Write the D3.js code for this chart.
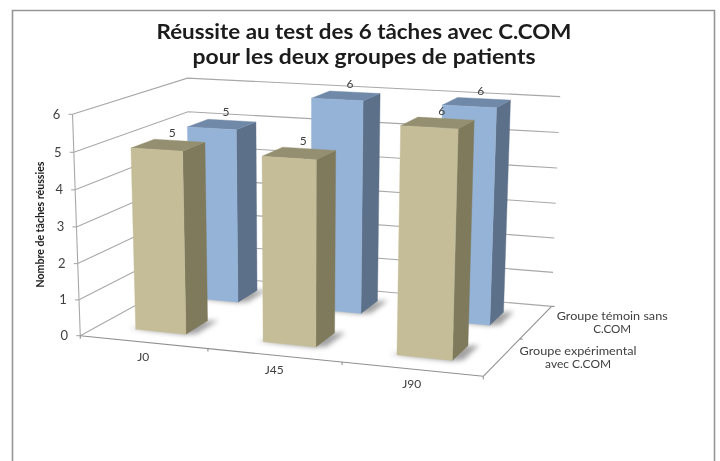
<!DOCTYPE html>
<html>
<head>
<meta charset="utf-8">
<script src="https://cdn.jsdelivr.net/npm/d3@7"></script>
<style>
  body { margin: 0; background: #fff; }
  text { font-family: Lato, "Open Sans", sans-serif; fill: #404040; }
</style>
</head>
<body>
<script>
const w = 720;
const h = 461;

const categories = ["J0", "J45", "J90"];
const groups = ["Groupe expérimental avec C.COM", "Groupe témoin sans C.COM"];
const experimental = [5, 5, 6];
const temoin = [5, 6, 6];
const yTicks = [0, 1, 2, 3, 4, 5, 6];
const titleLines = [
  "Réussite au test des 6 tâches avec C.COM",
  "pour les deux groupes de patients",
];

// box corners seen on the picture: [x, z, y] -> [screen x, screen y]
const anchors = [
  [[0, 0, 0], [81, 335]],
  [[0, 0, 6], [72, 114]],
  [[0, 1, 0], [190, 276]],
  [[0, 1, 6], [188, 78]],
  [[3, 1, 0], [552, 305]],
  [[3, 1, 6], [560, 97]],
  [[3, 0, 0], [483, 377]],
  [[1, 0, 0], [208, 348]],
  [[2, 0, 0], [342, 363]],
];

// least squares fit of a projective camera
function fitCamera(pts) {
  const rows = [];
  const rhs = [];
  pts.forEach(([p, s]) => {
    const [x, z, y] = p;
    const u = s[0] / 100;
    const v = s[1] / 100;
    rows.push([x, z, y, 1, 0, 0, 0, 0, -u * x, -u * z, -u * y]);
    rhs.push(u);
    rows.push([0, 0, 0, 0, x, z, y, 1, -v * x, -v * z, -v * y]);
    rhs.push(v);
  });
  const n = 11;
  const a = d3.range(n).map((i) =>
    d3.range(n + 1).map((j) =>
      j < n
        ? d3.sum(rows, (r) => r[i] * r[j])
        : d3.sum(rows, (r, k) => r[i] * rhs[k])
    )
  );
  for (let i = 0; i < n; i++) {
    let best = i;
    for (let k = i; k < n; k++) {
      if (Math.abs(a[k][i]) > Math.abs(a[best][i])) best = k;
    }
    [a[i], a[best]] = [a[best], a[i]];
    for (let k = 0; k < n; k++) {
      if (k === i) continue;
      const f = a[k][i] / a[i][i];
      for (let j = i; j <= n; j++) a[k][j] -= f * a[i][j];
    }
  }
  return d3.range(n).map((i) => a[i][n] / a[i][i]);
}

const cam = fitCamera(anchors);

function project(x, z, y) {
  const d = cam[8] * x + cam[9] * z + cam[10] * y + 1;
  return [
    (100 * (cam[0] * x + cam[1] * z + cam[2] * y + cam[3])) / d,
    (100 * (cam[4] * x + cam[5] * z + cam[6] * y + cam[7])) / d,
  ];
}

const xScale = d3.scaleBand().domain(categories).range([0, 3]).paddingInner(0.6).paddingOuter(0.3);
const zScale = d3.scaleBand().domain(groups).range([0, 1]).paddingInner(0.6).paddingOuter(0.3);

const root = d3.select("body").append("svg").attr("width", w).attr("height", h).style("display", "block");

const defs = root.append("defs");
defs.append("filter").attr("id", "soft").attr("x", "-30%").attr("y", "-60%").attr("width", "160%").attr("height", "220%")
  .append("feGaussianBlur").attr("stdDeviation", 2.5);
// the reference is a slightly blurred scan
defs.append("filter").attr("id", "scan").attr("x", 0).attr("y", 0).attr("width", "100%").attr("height", "100%")
  .append("feGaussianBlur").attr("stdDeviation", 0.35);

const svg = root.append("g").attr("filter", "url(#scan)");
svg.append("rect").attr("width", w).attr("height", h).attr("fill", "#fff");

const line = d3.line();

// frame of the pasted chart
svg.append("path").attr("d", "M12.5,461V10.5H714.5V461").attr("stroke", "#969696").attr("stroke-width", 1.6).attr("fill", "none");

// title, stretched like the reference
const titleWidths = [415, 343];
svg.append("g").selectAll("text").data(titleLines).enter().append("text")
  .attr("x", 364)
  .attr("y", (d, i) => 39 + i * 24.5)
  .attr("text-anchor", "middle")
  .attr("font-size", 20.3)
  .attr("font-weight", 700)
  .attr("textLength", (d, i) => titleWidths[i])
  .attr("lengthAdjust", "spacingAndGlyphs")
  .style("fill", "#1a1a1a")
  .text((d) => d);

// walls
const grid = svg.append("g").attr("fill", "none").attr("stroke", "#a8a8a8").attr("stroke-width", 1.1);
yTicks.forEach((t) => {
  grid.append("path").attr("d", line([project(0, 0, t), project(0, 1, t), project(3, 1, t)]));
  grid.append("path").attr("d", line([project(0, 0, t), [project(0, 0, t)[0] - 4, project(0, 0, t)[1]]]));
});
grid.append("path").attr("d", line([project(0, 0, 0), project(0, 0, 6)]));

// floor edges and their ticks
const floor = svg.append("g").attr("fill", "none").attr("stroke", "#8f8f8f").attr("stroke-width", 1.1);
floor.append("path").attr("d", line([project(0, 0, 0), project(3, 0, 0)]));
floor.append("path").attr("d", line([project(3, 0, 0), project(3, 1, 0)]));
[0, 1, 2, 3].forEach((i) => {
  const p = project(i, 0, 0);
  floor.append("path").attr("d", line([p, [p[0], p[1] + 3]]));
});
[0.5, 1].forEach((z) => {
  const p = project(3, z, 0);
  floor.append("path").attr("d", line([p, [p[0] + 3, p[1]]]));
});

const palette = [
  { front: "#c4bd97", side: "#7f7a5c", top: "#948f6f" },
  { front: "#95b3d7", side: "#5d7089", top: "#7189a9" },
];

function drawBar(cat, group, value, col) {
  const x0 = xScale(cat);
  const x1 = x0 + xScale.bandwidth();
  const z0 = zScale(group);
  const z1 = z0 + zScale.bandwidth();
  const g = svg.append("g");
  const poly = (pts, fill) =>
    g.append("path").attr("d", line(pts) + "Z").attr("fill", fill).attr("stroke", fill).attr("stroke-width", 0.4);
  // shadow on the floor
  g.append("path")
    .attr("d", line([project(x0 - 0.05, z0, 0), project(x1, z0 - 0.01, 0), project(x1 + 0.07, z0 + 0.02, 0), project(x1 + 0.07, z1 + 0.02, 0), project(x1, z1, 0)]) + "Z")
    .attr("fill", "#666")
    .attr("opacity", 0.6)
    .attr("filter", "url(#soft)");
  poly([project(x1, z0, 0), project(x1, z1, 0), project(x1, z1, value), project(x1, z0, value)], col.side);
  poly([project(x0, z0, value), project(x1, z0, value), project(x1, z1, value), project(x0, z1, value)], col.top);
  poly([project(x0, z0, 0), project(x1, z0, 0), project(x1, z0, value), project(x0, z0, value)], col.front);
  return project((x0 + x1) / 2, (z0 + z1) / 2, value);
}

// back row first so the front row covers it
const rows = [
  { group: groups[1], values: temoin, col: palette[1] },
  { group: groups[0], values: experimental, col: palette[0] },
];
const labels = [];
rows.forEach((r) => {
  categories.forEach((c, i) => {
    const p = drawBar(c, r.group, r.values[i], r.col);
    labels.push({ p, v: r.values[i] });
  });
});

svg.append("g").selectAll("text").data(labels).enter().append("text")
  .attr("x", (d) => d.p[0] + 4)
  .attr("y", (d) => d.p[1] - 8)
  .attr("text-anchor", "middle")
  .attr("font-size", 12)
  .text((d) => d.v);

// y axis labels
svg.append("g").selectAll("text").data(yTicks).enter().append("text")
  .attr("x", (d) => project(0, 0, d)[0] - 16)
  .attr("y", (d) => project(0, 0, d)[1] + 4.5)
  .attr("text-anchor", "middle")
  .attr("font-size", 13)
  .text((d) => d);

svg.append("text")
  .attr("transform", "translate(44,224.5) rotate(-90)")
  .attr("text-anchor", "middle")
  .attr("font-size", 11)
  .attr("font-weight", 700)
  .style("fill", "#1a1a1a")
  .attr("textLength", 126)
  .attr("lengthAdjust", "spacingAndGlyphs")
  .text("Nombre de tâches réussies");

// category labels
svg.append("g").selectAll("text").data(categories).enter().append("text")
  .attr("x", (d, i) => project(i + 0.5, 0, 0)[0])
  .attr("y", (d, i) => project(i + 0.5, 0, 0)[1] + 19)
  .attr("text-anchor", "middle")
  .attr("font-size", 12)
  .text((d) => d);

// depth axis labels, wrapped on two lines
const groupLines = [
  ["Groupe expérimental", "avec C.COM"],
  ["Groupe témoin sans", "C.COM"],
];
const groupWidths = [
  [117, 66],
  [111, 38],
];
groupLines.forEach((lines, i) => {
  const p = project(3, 0.25 + i * 0.5, 0);
  svg.append("g").selectAll("text").data(lines).enter().append("text")
    .attr("x", p[0] + 76)
    .attr("y", (d, k) => p[1] - 2 + k * 13)
    .attr("text-anchor", "middle")
    .attr("font-size", 10.7)
    .attr("textLength", (d, k) => groupWidths[i][k])
    .attr("lengthAdjust", "spacingAndGlyphs")
    .text((d) => d);
});
</script>
</body>
</html>
